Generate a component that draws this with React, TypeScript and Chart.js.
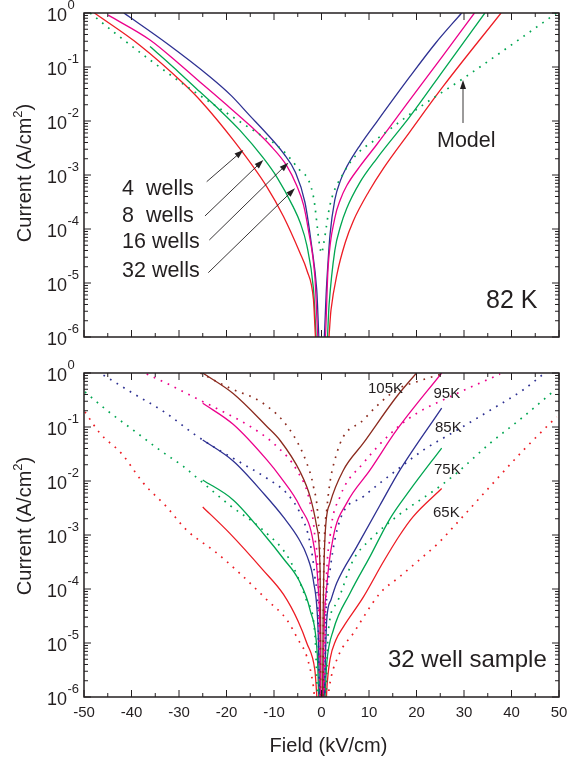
import React, { useEffect, useRef } from "react";
import { Chart, registerables } from "chart.js";

Chart.register(...registerables);

const FONT = "'Liberation Sans', Arial, Helvetica, sans-serif";
const INK = "#231f20";
const RED = "#ed1c24";
const GREEN = "#00a651";
const MAGENTA = "#ec008c";
const BLUE = "#2e3192";
const BROWN = "#8b2a1e";

// Axis ticks
const xTickValues = [-50, -40, -30, -20, -10, 0, 10, 20, 30, 40, 50];
const xTickLabels = ["-50", "-40", "-30", "-20", "-10", "0", "10", "20", "30", "40", "50"];
const xMinorTicks = [-45, -35, -25, -15, -5, 5, 15, 25, 35, 45];
const yDecadeExponents = [0, -1, -2, -3, -4, -5, -6];

// Series: [field (kV/cm), log10 of current density (A/cm^2)]
type Pair = [number, number];

// ---- Top panel: 82 K ----
const fourWells82K: Pair[] = [
  [-41.6, 0], [-32.6, -0.56], [-23.5, -1.18], [-19.0, -1.53], [-15.1, -1.9], [-12.0, -2.19],
  [-8.0, -2.6], [-5.5, -2.95], [-3.5, -3.5], [-2.1, -4.3], [-1.0, -5.13], [-0.3, -6.3],
  [0.3, -6.3], [1.1, -5.0], [1.8, -4.1], [2.8, -3.46], [4.0, -3.1], [5.3, -2.85], [8.1, -2.45],
  [11.6, -2.02], [18.6, -1.18], [24.0, -0.56], [29.5, 0],
];
const eightWells82K: Pair[] = [
  [-44.9, -0.04], [-36.1, -0.5], [-30.0, -0.94], [-24.9, -1.33], [-20.0, -1.7], [-15.1, -2.08],
  [-10.8, -2.45], [-7.3, -2.83], [-5.2, -3.2], [-3.8, -3.55], [-2.8, -4.0], [-1.4, -4.88],
  [-0.5, -6.3],
  [0.6, -6.3], [1.4, -4.7], [2.8, -3.8], [4.0, -3.45], [5.3, -3.2], [8.0, -2.85], [11.6, -2.44],
  [18.6, -1.61], [25.5, -0.8], [32.2, 0],
];
const sixteenWells82K: Pair[] = [
  [-36.1, -0.62], [-30.0, -1.1], [-25.6, -1.46], [-21.4, -1.8], [-17.2, -2.17], [-12.3, -2.68],
  [-9.4, -3.04], [-5.9, -3.6], [-4.5, -3.88], [-3.1, -4.3], [-1.7, -5.1], [-0.8, -6.3],
  [1.0, -6.3], [1.6, -5.4], [2.8, -4.4], [4.0, -3.95], [5.3, -3.62], [8.0, -3.15], [11.6, -2.7],
  [18.6, -1.92], [26.0, -1.02], [34.4, 0],
];
const thirtyTwoWells82K: Pair[] = [
  [-47.8, 0], [-38.2, -0.6], [-29.1, -1.3], [-25.6, -1.61], [-18.6, -2.35], [-11.5, -3.22],
  [-8.0, -3.77], [-4.5, -4.45], [-3.1, -4.76], [-1.7, -5.3], [-1.0, -6.3],
  [1.2, -6.3], [2.0, -5.5], [3.3, -4.82], [5.0, -4.25], [6.7, -3.85], [10.0, -3.3], [13.0, -2.88],
  [18.6, -2.2], [25.6, -1.36], [37.8, 0],
];
const model82K: Pair[] = [
  [-48.7, 0], [-43.5, -0.37], [-36.1, -0.87], [-28.4, -1.36], [-18.6, -1.93], [-12.3, -2.29],
  [-9.4, -2.45], [-5.2, -2.85], [-1.7, -3.4], [-0.4, -4.3], [0.0, -4.45], [0.4, -4.3],
  [1.8, -3.55], [4.6, -2.97], [7.4, -2.62], [12.3, -2.29], [21.4, -1.7], [29.7, -1.22], [49.5, 0],
];

// ---- Bottom panel: 32 well sample, measured ----
const sample105K: Pair[] = [
  [-25, 0], [-18.6, -0.38], [-11.5, -0.99], [-8.7, -1.25], [-4.5, -1.83], [-2.4, -2.29],
  [-1.0, -2.85], [-0.3, -3.65], [-0.15, -5.0], [-0.1, -6.3], [0.2, -6.3], [0.35, -4.5],
  [0.74, -3.03], [1.8, -2.41], [4.6, -1.8], [8.8, -1.3], [15.8, -0.44], [20.0, 0],
];
const sample95K: Pair[] = [
  [-25, -0.56], [-18.6, -0.95], [-11.5, -1.61], [-8.7, -1.92], [-4.5, -2.48], [-1.7, -3.15],
  [-0.7, -3.96], [-0.3, -5.0], [-0.2, -6.3], [0.35, -6.3], [0.5, -5.0], [1.1, -3.96],
  [2.5, -3.03], [5.3, -2.41], [10.2, -1.8], [15.8, -1.06], [25.3, 0],
];
const sample85K: Pair[] = [
  [-25, -1.24], [-18.6, -1.63], [-12.0, -2.25], [-8.0, -2.67], [-4.8, -3.07], [-3.0, -3.4],
  [-1.7, -3.85], [-0.7, -4.8], [-0.3, -6.3], [0.4, -6.3], [1.1, -4.57], [2.0, -4.2],
  [3.2, -3.89], [7.4, -3.22], [12.3, -2.45], [16.5, -1.8], [25.3, -0.65],
];
const sample75K: Pair[] = [
  [-25, -1.98], [-18.6, -2.35], [-12.0, -3.0], [-8.0, -3.44], [-4.8, -3.83], [-2.4, -4.39],
  [-0.9, -5.19], [-0.4, -6.3], [0.5, -6.3], [1.1, -5.38], [2.5, -4.76], [6.0, -4.08],
  [10.2, -3.4], [14.4, -2.7], [18.6, -2.17], [25.3, -1.39],
];
const sample65K: Pair[] = [
  [-25, -2.48], [-19.3, -2.97], [-12.3, -3.65], [-8.0, -4.1], [-4.9, -4.6], [-3.1, -5.0],
  [-1.4, -5.5], [-0.6, -6.3], [0.8, -6.3], [1.2, -5.75], [1.8, -5.3], [3.0, -4.95],
  [4.6, -4.7], [8.8, -4.15], [13.0, -3.5], [16.5, -3.0], [19.3, -2.66], [25.3, -2.14],
];

// ---- Bottom panel: model curves ----
const model105K: Pair[] = [
  [-25.5, 0], [-19.3, -0.28], [-12.3, -0.56], [-6.6, -1.06], [-3.1, -1.67], [-1.7, -2.1],
  [-0.7, -2.72], [-0.3, -3.8], [-0.15, -6.3], [0.25, -6.3], [0.45, -3.8], [1.1, -2.54],
  [3.2, -1.49], [8.8, -0.87], [15.8, -0.31], [20.5, -0.15], [26.0, 0],
];
const model95K: Pair[] = [
  [-36.8, -0.02], [-32.6, -0.19], [-27, -0.44], [-20, -0.75], [-15, -0.99], [-9.4, -1.36],
  [-5.2, -1.8], [-2.4, -2.41], [-1.4, -3.03], [-0.6, -4.2], [-0.3, -6.3], [0.5, -6.3],
  [0.9, -4.2], [1.8, -3.03], [3.9, -2.29], [8.8, -1.67], [15.8, -1.02], [20, -0.75],
  [28.5, -0.38], [37.6, -0.02],
];
const model85K: Pair[] = [
  [-45.9, -0.04], [-39.6, -0.38], [-32.6, -0.75], [-27, -1.12], [-22.1, -1.4], [-17.2, -1.65],
  [-11.5, -1.95], [-7.3, -2.23], [-4.5, -2.6], [-2.4, -3.15], [-1.4, -3.77], [-0.7, -4.6],
  [-0.4, -6.3], [0.6, -6.3], [0.9, -4.6], [1.8, -3.65], [3.9, -2.72], [8.8, -2.29],
  [15.8, -1.8], [21.4, -1.43], [28.5, -1.06], [35.5, -0.69], [42.5, -0.31], [46.7, -0.02],
];
const model75K: Pair[] = [
  [-49.8, -0.35], [-45.2, -0.69], [-39.6, -1.06], [-34, -1.43], [-29.1, -1.73], [-24.9, -2.04],
  [-19.3, -2.45], [-12.3, -2.91], [-6.7, -3.46], [-3.2, -4.2], [-1.4, -4.82], [-0.6, -6.3],
  [0.8, -6.3], [1.4, -4.82], [3.2, -4.26], [6.7, -3.46], [10.2, -3.09], [15.8, -2.66],
  [24.9, -2.1], [28.5, -1.85], [35.5, -1.3], [42.5, -0.81], [49.2, -0.31],
];
const model65K: Pair[] = [
  [-49.8, -0.72], [-46.6, -1.12], [-42.1, -1.49], [-37.5, -2.04], [-32.6, -2.48], [-28.4, -2.91],
  [-24.9, -3.15], [-22.8, -3.28], [-17.2, -3.71], [-11.5, -4.2], [-7.3, -4.57], [-4.9, -4.94],
  [-3.1, -5.25], [-1.7, -5.81], [-1.1, -6.3], [1.1, -6.3], [1.6, -5.85], [3.5, -5.25],
  [6.7, -4.82], [12.3, -4.08], [16.5, -3.77], [21.4, -3.4], [24.6, -3.15], [28.5, -2.78],
  [35.5, -2.1], [42.5, -1.43], [49.5, -0.81],
];

// Annotation arrows in data coordinates: [tailField, tailLog, tipField, tipLog]
const wellArrows: [number, number, number, number][] = [
  [-24.17, -3.124, -16.46, -2.537],
  [-24.53, -3.759, -12.25, -2.722],
  [-23.62, -4.204, -6.99, -2.772],
  [-23.83, -4.809, -5.58, -3.246],
];
const modelArrow: [number, number, number, number] = [29.79, -2.037, 29.79, -1.241];
const wellLabels = ["4  wells", "8  wells", "16 wells", "32 wells"];
const tempLabels = ["105K", "95K", "85K", "75K", "65K"];

const toPts = (p: Pair[]) => p.map(([x, e]) => ({ x, y: Math.pow(10, e) }));

function solid(label: string, color: string, pairs: Pair[]) {
  return {
    label,
    data: toPts(pairs),
    borderColor: color,
    backgroundColor: color,
    borderWidth: 1.3,
    pointRadius: 0,
    fill: false,
    cubicInterpolationMode: "monotone" as const,
  };
}
function dotted(label: string, color: string, pairs: Pair[]) {
  return {
    label,
    data: toPts(pairs),
    borderColor: color,
    backgroundColor: color,
    borderWidth: 1.7,
    borderDash: [1.7, 6],
    borderCapStyle: "butt" as const,
    pointRadius: 0,
    fill: false,
    cubicInterpolationMode: "monotone" as const,
  };
}

function drawPowLabel(ctx: CanvasRenderingContext2D, y: number, exp: number) {
  ctx.textAlign = "left";
  ctx.textBaseline = "alphabetic";
  ctx.font = `18px ${FONT}`;
  ctx.fillText("10", 47, y + 7.5);
  const w = ctx.measureText("10").width;
  ctx.font = `13px ${FONT}`;
  ctx.fillText(exp === 0 ? "0" : "-" + Math.abs(exp), 47 + w + 0.5, y - 4.5);
}

function drawYTitle(ctx: CanvasRenderingContext2D, cx: number, cy: number) {
  ctx.save();
  ctx.translate(cx, cy);
  ctx.rotate(-Math.PI / 2);
  ctx.textBaseline = "alphabetic";
  ctx.textAlign = "left";
  const big = `20px ${FONT}`;
  const small = `13px ${FONT}`;
  const a = "Current (A/cm";
  const b = "2";
  const c = ")";
  ctx.font = big;
  const wa = ctx.measureText(a).width;
  const wc = ctx.measureText(c).width;
  ctx.font = small;
  const wb = ctx.measureText(b).width;
  const start = -(wa + wb + wc) / 2;
  ctx.font = big;
  ctx.fillText(a, start, 0);
  ctx.font = small;
  ctx.fillText(b, start + wa, -9);
  ctx.font = big;
  ctx.fillText(c, start + wa + wb, 0);
  ctx.restore();
}

function drawArrow(ctx: CanvasRenderingContext2D, x1: number, y1: number, x2: number, y2: number) {
  const ang = Math.atan2(y2 - y1, x2 - x1);
  const len = 9;
  const hw = 3;
  ctx.beginPath();
  ctx.moveTo(x1, y1);
  ctx.lineTo(x2 - Math.cos(ang) * len * 0.8, y2 - Math.sin(ang) * len * 0.8);
  ctx.stroke();
  ctx.beginPath();
  ctx.moveTo(x2, y2);
  ctx.lineTo(x2 - Math.cos(ang) * len - Math.sin(ang) * hw, y2 - Math.sin(ang) * len + Math.cos(ang) * hw);
  ctx.lineTo(x2 - Math.cos(ang) * len + Math.sin(ang) * hw, y2 - Math.sin(ang) * len - Math.cos(ang) * hw);
  ctx.closePath();
  ctx.fill();
}

function makeDecor(kind: "top" | "bottom") {
  return {
    id: "decor-" + kind,
    afterDraw(chart: any) {
      const ctx: CanvasRenderingContext2D = chart.ctx;
      const a = chart.chartArea;
      const xs = chart.scales.x;
      const ys = chart.scales.y;
      ctx.save();
      ctx.strokeStyle = INK;
      ctx.fillStyle = INK;
      // ticks
      ctx.lineWidth = 1;
      ctx.beginPath();
      for (const v of xTickValues) {
        const p = xs.getPixelForValue(v);
        ctx.moveTo(p, a.bottom); ctx.lineTo(p, a.bottom - 7);
        ctx.moveTo(p, a.top); ctx.lineTo(p, a.top + 7);
      }
      for (const v of xMinorTicks) {
        const p = xs.getPixelForValue(v);
        ctx.moveTo(p, a.bottom); ctx.lineTo(p, a.bottom - 4);
        ctx.moveTo(p, a.top); ctx.lineTo(p, a.top + 4);
      }
      for (const e of yDecadeExponents) {
        const p = ys.getPixelForValue(Math.pow(10, e));
        ctx.moveTo(a.left, p); ctx.lineTo(a.left + 7, p);
        ctx.moveTo(a.right, p); ctx.lineTo(a.right - 7, p);
        if (e < 0) {
          for (let m = 2; m <= 9; m++) {
            const q = ys.getPixelForValue(m * Math.pow(10, e));
            ctx.moveTo(a.left, q); ctx.lineTo(a.left + 4, q);
            ctx.moveTo(a.right, q); ctx.lineTo(a.right - 4, q);
          }
        }
      }
      ctx.stroke();
      // frame
      ctx.lineWidth = 1.5;
      ctx.strokeRect(a.left, a.top, a.right - a.left, a.bottom - a.top);
      // y tick labels
      for (const e of yDecadeExponents) {
        drawPowLabel(ctx, ys.getPixelForValue(Math.pow(10, e)), e);
      }
      drawYTitle(ctx, 31, (a.top + a.bottom) / 2 - (kind === "top" ? 2 : 9));

      ctx.textAlign = "left";
      ctx.textBaseline = "alphabetic";
      if (kind === "top") {
        ctx.font = `21.5px ${FONT}`;
        const baselines = [195, 221.5, 248, 276.5];
        wellLabels.forEach((t, i) => ctx.fillText(t, 122, baselines[i]));
        ctx.fillText("Model", 437, 146.5);
        ctx.font = `25px ${FONT}`;
        ctx.fillText("82 K", 486, 308);
        ctx.lineWidth = 0.9;
        const px = (v: number) => xs.getPixelForValue(v);
        const py = (e: number) => ys.getPixelForValue(Math.pow(10, e));
        for (const [x1, e1, x2, e2] of wellArrows) drawArrow(ctx, px(x1), py(e1), px(x2), py(e2));
        const [mx1, me1, mx2, me2] = modelArrow;
        drawArrow(ctx, px(mx1), py(me1), px(mx2), py(me2));
      } else {
        ctx.font = `15px ${FONT}`;
        const pos: [number, number][] = [[368, 43], [433.5, 48.3], [435, 81.7], [434, 124], [433, 166.7]];
        tempLabels.forEach((t, i) => ctx.fillText(t, pos[i][0], pos[i][1]));
        ctx.font = `24px ${FONT}`;
        ctx.fillText("32 well sample", 388, 316.7);
        // x tick labels
        ctx.font = `15px ${FONT}`;
        ctx.textAlign = "center";
        xTickValues.forEach((v, i) => ctx.fillText(xTickLabels[i], xs.getPixelForValue(v), 366.5));
        ctx.font = `20px ${FONT}`;
        ctx.fillText("Field (kV/cm)", 328.5, 402);
      }
      ctx.restore();
    },
  };
}

function baseOptions(padding: { left: number; right: number; top: number; bottom: number }) {
  return {
    responsive: false,
    animation: false as const,
    devicePixelRatio: 1,
    layout: { padding },
    scales: {
      x: { type: "linear" as const, min: -50, max: 50, display: false },
      y: { type: "logarithmic" as const, min: 1e-6, max: 1, display: false },
    },
    plugins: { legend: { display: false }, tooltip: { enabled: false } },
    elements: { line: { tension: 0 } },
  };
}

export default function App() {
  const topRef = useRef<HTMLCanvasElement>(null);
  const botRef = useRef<HTMLCanvasElement>(null);

  useEffect(() => {
    const top = new Chart(topRef.current as HTMLCanvasElement, {
      type: "line",
      data: {
        datasets: [
          dotted("Model", GREEN, model82K),
          solid("32 wells", RED, thirtyTwoWells82K),
          solid("16 wells", GREEN, sixteenWells82K),
          solid("8 wells", MAGENTA, eightWells82K),
          solid("4 wells", BLUE, fourWells82K),
        ],
      },
      options: baseOptions({ left: 84, right: 10, top: 13, bottom: 13 }) as any,
      plugins: [makeDecor("top")],
    });
    const bottom = new Chart(botRef.current as HTMLCanvasElement, {
      type: "line",
      data: {
        datasets: [
          dotted("65K model", RED, model65K),
          dotted("75K model", GREEN, model75K),
          dotted("85K model", BLUE, model85K),
          dotted("95K model", MAGENTA, model95K),
          dotted("105K model", BROWN, model105K),
          solid("65K", RED, sample65K),
          solid("75K", GREEN, sample75K),
          solid("85K", BLUE, sample85K),
          solid("95K", MAGENTA, sample95K),
          solid("105K", BROWN, sample105K),
        ],
      },
      options: baseOptions({ left: 84, right: 10, top: 23, bottom: 63 }) as any,
      plugins: [makeDecor("bottom")],
    });
    return () => {
      top.destroy();
      bottom.destroy();
    };
  }, []);

  return (
    <div style={{ position: "absolute", left: 0, top: 0, width: 569, height: 760, background: "#fff" }}>
      <canvas ref={topRef} width={569} height={350} style={{ position: "absolute", left: 0, top: 0, width: 569, height: 350 }} />
      <canvas ref={botRef} width={569} height={410} style={{ position: "absolute", left: 0, top: 350, width: 569, height: 410 }} />
    </div>
  );
}
